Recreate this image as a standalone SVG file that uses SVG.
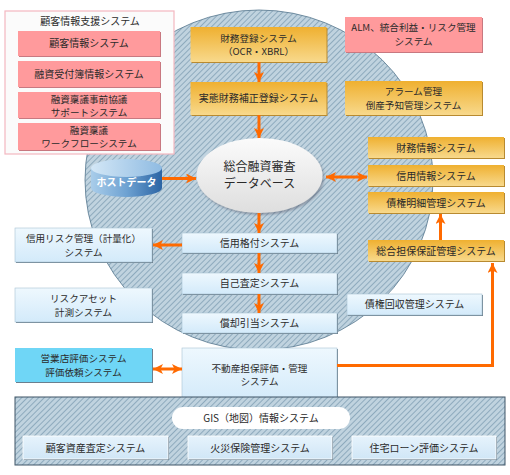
<svg xmlns="http://www.w3.org/2000/svg" width="510" height="475" viewBox="0 0 510 475">
<defs>
<pattern id="hatch" width="4" height="4" patternUnits="userSpaceOnUse" patternTransform="rotate(45)">
<rect width="4" height="4" fill="#c0d3df"/>
<line x1="0.5" y1="0" x2="0.5" y2="4" stroke="#8eaabd" stroke-width="1"/>
</pattern>
<linearGradient id="gOr" x1="0" y1="0" x2="0" y2="1">
<stop offset="0" stop-color="#efb030"/>
<stop offset="1" stop-color="#f8d98c"/>
</linearGradient>
<linearGradient id="gBl" x1="0" y1="0" x2="0" y2="1">
<stop offset="0" stop-color="#eef8fe"/>
<stop offset="1" stop-color="#d3eafa"/>
</linearGradient>
<linearGradient id="gBtm" x1="0" y1="0" x2="0" y2="1">
<stop offset="0" stop-color="#e6f3fc"/>
<stop offset="1" stop-color="#d0e6f6"/>
</linearGradient>
<linearGradient id="gEl" x1="0" y1="0" x2="0" y2="1">
<stop offset="0" stop-color="#fbfbfb"/>
<stop offset="1" stop-color="#dedede"/>
</linearGradient>
<linearGradient id="gCyl" x1="0" y1="0" x2="1" y2="0">
<stop offset="0" stop-color="#a9cdea"/>
<stop offset="0.5" stop-color="#6ea2d2"/>
<stop offset="1" stop-color="#2b64a4"/>
</linearGradient>
<linearGradient id="gCylTop" x1="0" y1="0" x2="1" y2="0">
<stop offset="0" stop-color="#d3e7f6"/>
<stop offset="1" stop-color="#8fbbe2"/>
</linearGradient>
<marker id="ah" viewBox="0 0 10 10" refX="10" refY="5" markerWidth="10" markerHeight="10" markerUnits="userSpaceOnUse" orient="auto-start-reverse">
<path d="M0,0 L10,5 L0,10 L2.5,5 z" fill="#ff6a00"/>
</marker>
<filter id="sh" x="-10%" y="-10%" width="130%" height="140%">
<feDropShadow dx="1.5" dy="2" stdDeviation="1.2" flood-color="#556" flood-opacity="0.45"/>
</filter>
</defs>
<style>
text{font-family:"Noto Sans CJK JP","Liberation Sans",sans-serif;font-size:10px;fill:#2a2a2a;text-anchor:middle}
.two{font-size:9.6px}
.big{font-size:12px}
.host{fill:#fff;font-weight:bold}
.sd{fill:#6b7f8e}
.sdp{fill:#c87880}
.sdo{fill:#b88a30}
.pk{fill:#ff9a9c}
.or{fill:url(#gOr)}
.bl{fill:url(#gBl);stroke:#a9c2d4;stroke-width:0.6}
.cy{fill:#6fd6f6}
.bt{fill:url(#gBtm);stroke:#fff;stroke-width:0.8}
.con{stroke:#ff6a00;stroke-width:3;fill:none}
</style>

<!-- background circle -->
<ellipse cx="259" cy="180" rx="174" ry="170" fill="url(#hatch)" stroke="#52748c" stroke-width="0.8"/>

<!-- left pink panel -->
<g id="customer-support">
<rect x="5" y="11" width="169" height="143" fill="#fbfbfb" stroke="#f3b7c0" stroke-width="1.2"/>
<text x="90" y="25">顧客情報支援システム</text>
</g>
<g id="customer-info">
<rect x="19" y="32" width="142" height="25" class="sdp"/>
<rect x="18" y="31" width="142" height="25" class="pk"/>
<text x="89" y="47">顧客情報システム</text>
</g>
<g id="loan-reception">
<rect x="19" y="62" width="142" height="26" class="sdp"/>
<rect x="18" y="61" width="142" height="26" class="pk"/>
<text x="89" y="77.5">融資受付簿情報システム</text>
</g>
<g id="loan-pre">
<rect x="19" y="93" width="142" height="26" class="sdp"/>
<rect x="18" y="92" width="142" height="26" class="pk"/>
<text class="two" x="89" y="102.5">融資稟議事前協議</text>
<text class="two" x="89" y="116">サポートシステム</text>
</g>
<g id="loan-workflow">
<rect x="19" y="124" width="142" height="27" class="sdp"/>
<rect x="18" y="123" width="142" height="27" class="pk"/>
<text class="two" x="89" y="133.5">融資稟議</text>
<text class="two" x="89" y="147">ワークフローシステム</text>
</g>

<!-- top center -->
<g id="fin-reg">
<rect x="191.5" y="28" width="136" height="35" class="sdo"/>
<rect x="190.5" y="27" width="136" height="35" class="or"/>
<text class="two" x="258.5" y="41.5">財務登録システム</text>
<text class="two" x="258.5" y="55">（OCR・XBRL）</text>
</g>
<g id="fin-correct">
<rect x="191.5" y="83" width="136" height="33" class="sdo"/>
<rect x="190.5" y="82" width="136" height="33" class="or"/>
<text x="258.5" y="102">実態財務補正登録システム</text>
</g>

<!-- top right -->
<g id="alm">
<rect x="346" y="18" width="137" height="35" class="sdp"/>
<rect x="345" y="17" width="137" height="35" class="pk"/>
<text class="two" x="413.5" y="31">ALM、統合利益・リスク管理</text>
<text class="two" x="413.5" y="44.5">システム</text>
</g>
<g id="alarm">
<rect x="346" y="82" width="137" height="34" class="sdo"/>
<rect x="345" y="81" width="137" height="34" class="or"/>
<text class="two" x="413.5" y="95">アラーム管理</text>
<text class="two" x="413.5" y="108.5">倒産予知管理システム</text>
</g>

<!-- central DB -->
<g id="central-db">
<ellipse cx="259.5" cy="175.5" rx="63" ry="37.5" fill="url(#gEl)" filter="url(#sh)"/>
<text class="big" x="259.5" y="171">総合融資審査</text>
<text class="big" x="259.5" y="188">データベース</text>
</g>

<!-- host data -->
<g id="host-data">
<rect x="91" y="168" width="71" height="20" fill="url(#gCyl)"/>
<ellipse cx="126.5" cy="188" rx="35.5" ry="9" fill="url(#gCyl)"/>
<ellipse cx="126.5" cy="168" rx="35.5" ry="9" fill="url(#gCylTop)"/>
<text class="host" x="126.5" y="186">ホストデータ</text>
</g>

<!-- right orange list -->
<g id="fin-info">
<rect x="369" y="138" width="136" height="21" class="sdo"/>
<rect x="368" y="137" width="136" height="21" class="or"/>
<text x="436" y="151.5">財務情報システム</text>
</g>
<g id="credit-info">
<rect x="369" y="166" width="136" height="21" class="sdo"/>
<rect x="368" y="165" width="136" height="21" class="or"/>
<text x="436" y="179.5">信用情報システム</text>
</g>
<g id="claim-detail">
<rect x="369" y="193" width="136" height="21" class="sdo"/>
<rect x="368" y="192" width="136" height="21" class="or"/>
<text x="436" y="206.5">債権明細管理システム</text>
</g>
<g id="collateral">
<rect x="369" y="241" width="136" height="21" class="sdo"/>
<rect x="368" y="240" width="136" height="21" class="or"/>
<text x="436" y="254.5">総合担保保証管理システム</text>
</g>

<!-- center column -->
<g id="credit-rating">
<rect x="183" y="234" width="155" height="20" class="sd"/>
<rect x="182" y="233" width="155" height="20" class="bl"/>
<text x="259.5" y="246.5">信用格付システム</text>
</g>
<g id="self-assess">
<rect x="183" y="274" width="155" height="21" class="sd"/>
<rect x="182" y="273" width="155" height="21" class="bl"/>
<text x="259.5" y="287">自己査定システム</text>
</g>
<g id="provision">
<rect x="183" y="314" width="155" height="20" class="sd"/>
<rect x="182" y="313" width="155" height="20" class="bl"/>
<text x="259.5" y="326.5">償却引当システム</text>
</g>
<g id="real-estate">
<rect x="183" y="349" width="155" height="53" class="sd"/>
<rect x="182" y="348" width="155" height="53" class="bl"/>
<text class="two" x="259.5" y="371.5">不動産担保評価・管理</text>
<text class="two" x="259.5" y="385">システム</text>
</g>

<!-- left blue -->
<g id="credit-risk">
<rect x="16" y="229" width="137" height="34" class="sd"/>
<rect x="15" y="228" width="137" height="34" class="bl"/>
<text class="two" x="83.5" y="242">信用リスク管理（計量化）</text>
<text class="two" x="83.5" y="255.5">システム</text>
</g>
<g id="risk-asset">
<rect x="16" y="289" width="137" height="34" class="sd"/>
<rect x="15" y="288" width="137" height="34" class="bl"/>
<text class="two" x="83.5" y="302">リスクアセット</text>
<text class="two" x="83.5" y="315.5">計測システム</text>
</g>
<g id="branch-eval">
<rect x="16" y="349" width="137" height="34" class="sd"/>
<rect x="15" y="348" width="137" height="34" class="cy"/>
<text class="two" x="83.5" y="362">営業店評価システム</text>
<text class="two" x="83.5" y="375.5">評価依頼システム</text>
</g>
<g id="claim-collect">
<rect x="348" y="295" width="135" height="21" class="sd"/>
<rect x="347" y="294" width="135" height="21" class="bl"/>
<text x="414.5" y="308">債権回収管理システム</text>
</g>

<!-- bottom panel -->
<g id="gis-panel">
<rect x="15" y="397" width="490" height="68" fill="url(#hatch)" stroke="#3f5566" stroke-width="1"/>
</g>
<g id="gis">
<rect x="172" y="407" width="178" height="22" rx="11" fill="#fff"/>
<text x="261" y="422">GIS（地図）情報システム</text>
</g>
<g id="asset-assess">
<rect x="24" y="437" width="145" height="23" class="sd"/>
<rect x="23" y="436" width="145" height="23" class="bt"/>
<text x="95.5" y="451.5">顧客資産査定システム</text>
</g>
<g id="fire-ins">
<rect x="189" y="437" width="144" height="23" class="sd"/>
<rect x="188" y="436" width="144" height="23" class="bt"/>
<text x="260" y="451.5">火災保険管理システム</text>
</g>
<g id="mortgage">
<rect x="353" y="437" width="144" height="23" class="sd"/>
<rect x="352" y="436" width="144" height="23" class="bt"/>
<text x="424" y="451.5">住宅ローン評価システム</text>
</g>

<!-- connectors -->
<g id="connectors">
<line class="con" x1="259" y1="62" x2="259" y2="82" marker-end="url(#ah)"/>
<line class="con" x1="259" y1="115" x2="259" y2="138" marker-end="url(#ah)"/>
<line class="con" x1="162" y1="178.5" x2="196" y2="178.5" marker-end="url(#ah)"/>
<line class="con" x1="326" y1="177" x2="367" y2="177" marker-start="url(#ah)" marker-end="url(#ah)"/>
<line class="con" x1="259" y1="213" x2="259" y2="233" marker-end="url(#ah)"/>
<line class="con" x1="182" y1="245" x2="153" y2="245" marker-end="url(#ah)"/>
<line class="con" x1="259" y1="253" x2="259" y2="273" marker-end="url(#ah)"/>
<line class="con" x1="259" y1="294" x2="259" y2="313" marker-end="url(#ah)"/>
<line class="con" x1="440.5" y1="240" x2="440.5" y2="214" marker-end="url(#ah)"/>
<line class="con" x1="153" y1="369" x2="182" y2="369" marker-start="url(#ah)" marker-end="url(#ah)"/>
<polyline class="con" points="337,365.5 492.5,365.5 492.5,263" marker-end="url(#ah)"/>
</g>
</svg>
